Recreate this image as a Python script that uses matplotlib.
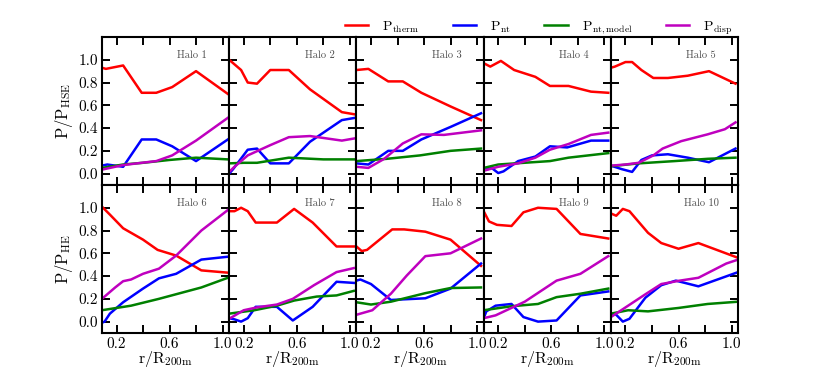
import matplotlib
matplotlib.use("Agg")
import matplotlib.pyplot as plt

plt.rcParams['font.family'] = 'cmr10'
plt.rcParams['mathtext.fontset'] = 'cm'
plt.rcParams['axes.formatter.use_mathtext'] = True

# radius grid and profiles for each halo
# (x_*, y_*) per curve: therm (red), nt (blue), nt,model (green), disp (magenta)
x_therm = [
    [0.09, 0.12, 0.25, 0.39, 0.50, 0.62, 0.80, 1.04],
    [0.09, 0.18, 0.23, 0.30, 0.40, 0.54, 0.70, 0.94, 1.04],
    [0.09, 0.18, 0.33, 0.44, 0.58, 0.80, 1.03],
    [0.09, 0.14, 0.22, 0.32, 0.40, 0.48, 0.59, 0.73, 0.90, 1.03],
    [0.09, 0.12, 0.20, 0.25, 0.32, 0.41, 0.52, 0.67, 0.83, 1.03],
    [0.09, 0.15, 0.25, 0.40, 0.51, 0.65, 0.84, 1.04],
    [0.09, 0.13, 0.18, 0.23, 0.29, 0.45, 0.58, 0.72, 0.90, 1.03],
    [0.09, 0.13, 0.17, 0.36, 0.45, 0.61, 0.80, 1.03],
    [0.09, 0.13, 0.19, 0.30, 0.39, 0.50, 0.64, 0.82, 1.03],
    [0.09, 0.13, 0.18, 0.23, 0.37, 0.47, 0.60, 0.75, 1.05],
]
y_therm = [
    [0.93, 0.92, 0.95, 0.71, 0.71, 0.76, 0.90, 0.70],
    [1.00, 0.91, 0.80, 0.79, 0.91, 0.91, 0.74, 0.54, 0.52],
    [0.91, 0.92, 0.81, 0.81, 0.71, 0.59, 0.47],
    [0.97, 0.94, 0.99, 0.91, 0.88, 0.85, 0.77, 0.77, 0.72, 0.71],
    [0.93, 0.94, 0.98, 0.98, 0.91, 0.84, 0.84, 0.86, 0.90, 0.79],
    [1.01, 0.94, 0.82, 0.72, 0.63, 0.58, 0.45, 0.43],
    [0.97, 0.97, 1.00, 0.97, 0.87, 0.87, 0.99, 0.87, 0.66, 0.66],
    [0.66, 0.62, 0.63, 0.81, 0.81, 0.79, 0.72, 0.49],
    [0.97, 0.88, 0.85, 0.84, 0.96, 1.00, 0.99, 0.77, 0.73],
    [0.95, 0.93, 0.99, 0.97, 0.78, 0.69, 0.64, 0.69, 0.56],
]

x_nt = [
    [0.09, 0.13, 0.25, 0.39, 0.50, 0.62, 0.80, 1.04],
    [0.09, 0.12, 0.23, 0.30, 0.40, 0.54, 0.70, 0.94, 1.04],
    [0.09, 0.18, 0.33, 0.44, 0.58, 0.80, 1.03],
    [0.09, 0.15, 0.20, 0.24, 0.35, 0.48, 0.59, 0.72, 0.90, 1.03],
    [0.09, 0.17, 0.25, 0.32, 0.40, 0.52, 0.67, 0.83, 1.03],
    [0.09, 0.11, 0.15, 0.25, 0.40, 0.52, 0.65, 0.84, 1.04],
    [0.09, 0.13, 0.18, 0.23, 0.29, 0.45, 0.57, 0.72, 0.90, 1.03],
    [0.09, 0.12, 0.20, 0.35, 0.61, 0.80, 1.03],
    [0.09, 0.11, 0.18, 0.30, 0.39, 0.50, 0.64, 0.82, 1.03],
    [0.09, 0.13, 0.18, 0.23, 0.35, 0.47, 0.58, 0.75, 1.05],
]
y_nt = [
    [0.07, 0.08, 0.06, 0.30, 0.30, 0.24, 0.11, 0.30],
    [0.00, 0.04, 0.21, 0.22, 0.09, 0.09, 0.28, 0.47, 0.49],
    [0.09, 0.08, 0.20, 0.20, 0.30, 0.41, 0.53],
    [0.03, 0.05, 0.005, 0.02, 0.11, 0.15, 0.24, 0.23, 0.29, 0.29],
    [0.07, 0.04, 0.015, 0.12, 0.16, 0.17, 0.14, 0.10, 0.22],
    [-0.01, 0.00, 0.07, 0.17, 0.29, 0.38, 0.42, 0.545, 0.57],
    [0.03, 0.02, 0.00, 0.03, 0.13, 0.13, 0.01, 0.13, 0.35, 0.34],
    [0.36, 0.37, 0.33, 0.19, 0.205, 0.29, 0.51],
    [0.03, 0.09, 0.14, 0.155, 0.04, 0.00, 0.01, 0.23, 0.265],
    [0.07, 0.06, 0.00, 0.025, 0.21, 0.32, 0.36, 0.31, 0.435],
]

x_model = [
    [0.09, 0.25, 0.40, 0.60, 0.80, 1.04],
    [0.09, 0.20, 0.30, 0.54, 0.80, 1.04],
    [0.09, 0.32, 0.57, 0.80, 1.03],
    [0.09, 0.20, 0.59, 0.73, 1.03],
    [0.09, 0.30, 0.57, 0.82, 1.03],
    [0.09, 0.31, 0.52, 0.84, 1.04],
    [0.09, 0.28, 0.45, 0.58, 0.75, 0.90, 1.03],
    [0.09, 0.20, 0.35, 0.61, 0.80, 1.03],
    [0.09, 0.30, 0.50, 0.64, 0.82, 1.03],
    [0.09, 0.22, 0.37, 0.60, 0.82, 1.05],
]
y_model = [
    [0.05, 0.08, 0.095, 0.12, 0.14, 0.125],
    [0.09, 0.095, 0.095, 0.14, 0.125, 0.125],
    [0.11, 0.13, 0.16, 0.20, 0.22],
    [0.05, 0.08, 0.11, 0.14, 0.18],
    [0.065, 0.09, 0.11, 0.13, 0.14],
    [0.10, 0.14, 0.20, 0.30, 0.385],
    [0.07, 0.10, 0.14, 0.185, 0.22, 0.23, 0.27],
    [0.17, 0.15, 0.175, 0.25, 0.295, 0.30],
    [0.10, 0.135, 0.155, 0.215, 0.245, 0.29],
    [0.07, 0.10, 0.09, 0.12, 0.155, 0.175],
]

x_disp = [
    [0.09, 0.25, 0.39, 0.50, 0.62, 0.80, 1.04],
    [0.09, 0.13, 0.23, 0.40, 0.54, 0.70, 0.94, 1.04],
    [0.09, 0.18, 0.30, 0.44, 0.58, 0.75, 1.03],
    [0.09, 0.20, 0.35, 0.48, 0.59, 0.73, 0.90, 1.03],
    [0.09, 0.20, 0.30, 0.41, 0.48, 0.62, 0.82, 0.95, 1.03],
    [0.09, 0.19, 0.25, 0.31, 0.40, 0.52, 0.65, 0.84, 1.04],
    [0.09, 0.20, 0.30, 0.45, 0.57, 0.73, 0.90, 1.03],
    [0.09, 0.21, 0.35, 0.47, 0.61, 0.80, 1.03],
    [0.09, 0.18, 0.40, 0.64, 0.82, 1.03],
    [0.09, 0.22, 0.35, 0.47, 0.61, 0.75, 0.96, 1.05],
]
y_disp = [
    [0.035, 0.075, 0.095, 0.11, 0.16, 0.29, 0.49],
    [0.015, 0.06, 0.16, 0.25, 0.32, 0.33, 0.29, 0.31],
    [0.06, 0.05, 0.13, 0.265, 0.345, 0.34, 0.38],
    [0.025, 0.06, 0.09, 0.14, 0.21, 0.26, 0.34, 0.36],
    [0.07, 0.08, 0.095, 0.16, 0.22, 0.285, 0.345, 0.39, 0.45],
    [0.20, 0.30, 0.355, 0.37, 0.42, 0.465, 0.58, 0.80, 0.98],
    [0.025, 0.10, 0.125, 0.15, 0.20, 0.32, 0.435, 0.47],
    [0.06, 0.10, 0.245, 0.405, 0.575, 0.60, 0.73],
    [0.03, 0.055, 0.175, 0.36, 0.42, 0.575],
    [0.04, 0.14, 0.24, 0.33, 0.36, 0.385, 0.51, 0.545],
]

halo_names = ['Halo %d' % (i + 1) for i in range(10)]
xticks = [0.2, 0.4, 0.6, 0.8, 1.0]
xtick_labels = ['0.2', '', '0.6', '', '1.0']
yticks = [0.0, 0.2, 0.4, 0.6, 0.8, 1.0]
ytick_labels = ['0.0', '0.2', '0.4', '0.6', '0.8', '1.0']

fig, axes = plt.subplots(2, 5, figsize=(8.22, 3.7), dpi=100)
fig.subplots_adjust(left=0.124, right=0.898, top=0.9, bottom=0.1, wspace=0, hspace=0)

lw = 1.8
for i, ax in enumerate(axes.flat):
    l1, = ax.plot(x_therm[i], y_therm[i], color='r', lw=lw)
    l2, = ax.plot(x_nt[i], y_nt[i], color='b', lw=lw)
    l3, = ax.plot(x_model[i], y_model[i], color='g', lw=lw)
    l4, = ax.plot(x_disp[i], y_disp[i], color='m', lw=lw)
    ax.set_xlim(0.09, 1.05)
    ax.set_ylim(-0.1, 1.2)
    ax.set_xticks(xticks)
    ax.set_yticks(yticks)
    ax.tick_params(direction='in', top=True, right=True, length=6, width=1.4,
                   labelsize=11, pad=3)
    for sp in ax.spines.values():
        sp.set_linewidth(1.5)
    ax.text(0.71, 0.88, halo_names[i], transform=ax.transAxes, ha='center',
            va='center', fontsize=7.5, color='0.3')
    row, col = divmod(i, 5)
    if row == 1:
        ax.set_xticklabels(xtick_labels)
        ax.set_xlabel(r'$\mathrm{r/R_{200m}}$', fontsize=11.5, labelpad=-1)
    else:
        ax.set_xticklabels([])
    if col == 0:
        ax.set_yticklabels(ytick_labels)
    else:
        ax.set_yticklabels([])

axes[0, 0].set_ylabel(r'$\mathrm{P/P_{HSE}}$', fontsize=12, labelpad=2)
axes[1, 0].set_ylabel(r'$\mathrm{P/P_{HE}}$', fontsize=12, labelpad=2)

fig.legend([l1, l2, l3, l4],
           [r'$\mathrm{P_{therm}}$', r'$\mathrm{P_{nt}}$',
            r'$\mathrm{P_{nt,model}}$', r'$\mathrm{P_{disp}}$'],
           loc='center', bbox_to_anchor=(0.655, 1 - 28 / 370), ncol=4,
           frameon=False, fontsize=10, handlelength=1.7, columnspacing=2.4,
           handletextpad=1.0)

fig.savefig('out.png', dpi=100)
